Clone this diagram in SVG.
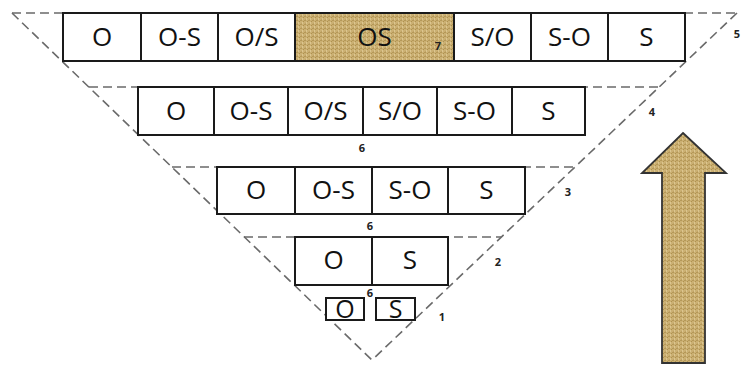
<svg xmlns="http://www.w3.org/2000/svg" width="743" height="365" viewBox="0 0 743 365">
<style>
.cell{fill:#fff;stroke:#1a1a1a;stroke-width:2}
.tex{fill:url(#burlap);stroke:#1a1a1a;stroke-width:2}
.lbl{font-family:"Open Sans","Liberation Sans",sans-serif;font-size:26px;fill:#111;text-anchor:middle}
.num{font-family:"Open Sans","Liberation Sans",sans-serif;font-size:11px;font-weight:bold;fill:#222;text-anchor:middle}
.dash{stroke:#6a6a6a;stroke-width:1.6;stroke-dasharray:9 5;fill:none}
</style>
<defs>
<pattern id="burlap" width="4" height="4" patternUnits="userSpaceOnUse">
<rect width="4" height="4" fill="#CBB073"/>
<rect x="0" y="0" width="2" height="1" fill="#B59858"/>
<rect x="2" y="2" width="1" height="2" fill="#DCC690"/>
<rect x="3" y="1" width="1" height="1" fill="#AE914F"/>
<rect x="1" y="3" width="1" height="1" fill="#BFA264"/>
</pattern>
</defs>
<g id="connectors">
<line class="dash" x1="12" y1="13" x2="372" y2="360"/>
<line class="dash" x1="737" y1="13" x2="372" y2="360"/>
<line class="dash" x1="12" y1="13" x2="737" y2="13"/>
<line class="dash" x1="89" y1="87" x2="659" y2="87"/>
<line class="dash" x1="172" y1="167" x2="575" y2="167"/>
<line class="dash" x1="244" y1="237" x2="501" y2="237"/>
</g>
<g id="row5">
<rect class="cell" x="63" y="13" width="78" height="48"/>
<rect class="cell" x="141" y="13" width="77" height="48"/>
<rect class="cell" x="218" y="13" width="77" height="48"/>
<rect class="tex" x="295" y="13" width="159" height="48"/>
<rect class="cell" x="454" y="13" width="77" height="48"/>
<rect class="cell" x="531" y="13" width="77" height="48"/>
<rect class="cell" x="608" y="13" width="77" height="48"/>
<text class="lbl" x="102" y="46">O</text>
<text class="lbl" x="179.5" y="46">O-S</text>
<text class="lbl" x="256.5" y="46">O/S</text>
<text class="lbl" x="374.5" y="46">OS</text>
<text class="lbl" x="492.5" y="46">S/O</text>
<text class="lbl" x="569.5" y="46">S-O</text>
<text class="lbl" x="646.5" y="46">S</text>
<text class="num" x="438" y="50">7</text>
<text class="num" x="737" y="38">5</text>
</g>
<g id="row4">
<rect class="cell" x="138" y="87" width="76" height="48"/>
<rect class="cell" x="214" y="87" width="74" height="48"/>
<rect class="cell" x="288" y="87" width="75" height="48"/>
<rect class="cell" x="363" y="87" width="74" height="48"/>
<rect class="cell" x="437" y="87" width="75" height="48"/>
<rect class="cell" x="512" y="87" width="73" height="48"/>
<text class="lbl" x="176" y="120">O</text>
<text class="lbl" x="251" y="120">O-S</text>
<text class="lbl" x="325.5" y="120">O/S</text>
<text class="lbl" x="400" y="120">S/O</text>
<text class="lbl" x="474.5" y="120">S-O</text>
<text class="lbl" x="548.5" y="120">S</text>
<text class="num" x="362" y="152">6</text>
<text class="num" x="652" y="116">4</text>
</g>
<g id="row3">
<rect class="cell" x="217" y="167" width="78" height="47"/>
<rect class="cell" x="295" y="167" width="77" height="47"/>
<rect class="cell" x="372" y="167" width="76" height="47"/>
<rect class="cell" x="448" y="167" width="77" height="47"/>
<text class="lbl" x="256" y="199">O</text>
<text class="lbl" x="333.5" y="199">O-S</text>
<text class="lbl" x="410" y="199">S-O</text>
<text class="lbl" x="486.5" y="199">S</text>
<text class="num" x="370" y="230">6</text>
<text class="num" x="568" y="196">3</text>
</g>
<g id="row2">
<rect class="cell" x="295" y="237" width="77" height="48"/>
<rect class="cell" x="372" y="237" width="76" height="48"/>
<text class="lbl" x="333.5" y="269">O</text>
<text class="lbl" x="410" y="269">S</text>
<text class="num" x="370" y="297">6</text>
<text class="num" x="498" y="266">2</text>
</g>
<g id="row1">
<rect class="cell" x="326" y="298" width="38" height="22"/>
<rect class="cell" x="376" y="298" width="39" height="22"/>
<text class="lbl" x="345" y="318" style="font-size:25px">O</text>
<text class="lbl" x="395.5" y="318" style="font-size:25px">S</text>
<text class="num" x="442" y="321">1</text>
</g>
<g id="arrow">
<polygon points="683,133 726,173 705,173 705,363 662,363 662,173 642,173" fill="url(#burlap)" stroke="#333" stroke-width="1.8" stroke-linejoin="miter"/>
</g>
</svg>
